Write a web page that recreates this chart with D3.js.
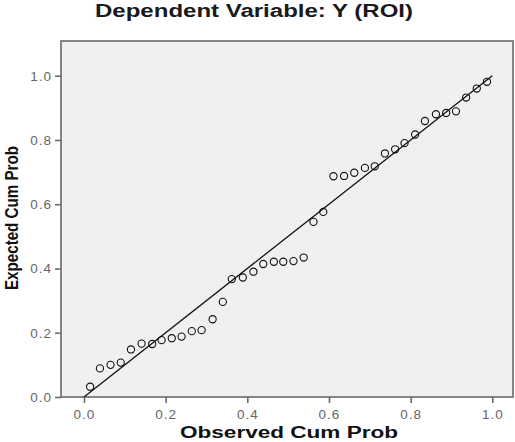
<!DOCTYPE html>
<html>
<head>
<meta charset="utf-8">
<script src="https://cdn.jsdelivr.net/npm/d3@7"></script>
<style>
  body { margin: 0; background: #fff; }
  #chart text { font-family: Arial, "Liberation Sans", sans-serif; }
</style>
</head>
<body>
<div id="chart"></div>
<script>
// observed vs expected cumulative probabilities
var observed = [0.015, 0.039, 0.065, 0.090, 0.115, 0.141, 0.167, 0.190, 0.215, 0.239,
                0.264, 0.288, 0.315, 0.340, 0.362, 0.389, 0.415, 0.439, 0.465, 0.488,
                0.513, 0.538, 0.562, 0.586, 0.611, 0.637, 0.662, 0.688, 0.712, 0.737,
                0.762, 0.785, 0.811, 0.835, 0.862, 0.887, 0.911, 0.936, 0.962, 0.987];
var expected = [0.032, 0.089, 0.100, 0.107, 0.148, 0.166, 0.165, 0.177, 0.183, 0.188,
                0.205, 0.208, 0.242, 0.296, 0.367, 0.372, 0.390, 0.414, 0.421, 0.421,
                0.423, 0.434, 0.545, 0.576, 0.687, 0.688, 0.698, 0.713, 0.718, 0.758,
                0.771, 0.790, 0.817, 0.859, 0.880, 0.884, 0.889, 0.932, 0.960, 0.981];
var tickValues = [0, 0.2, 0.4, 0.6, 0.8, 1.0];
var refLine = [0, 1];

var w = 515;
var h = 442;
var frame = { left: 61, top: 41, right: 513, bottom: 397 };

var svg = d3.select("#chart")
            .append("svg")
            .attr("width", w)
            .attr("height", h);

var x = d3.scaleLinear().domain([0, 1]).range([84, 492.3]);
var y = d3.scaleLinear().domain([0, 1]).range([397, 75.7]);

// plot area
svg.append("rect")
   .attr("x", frame.left)
   .attr("y", frame.top)
   .attr("width", frame.right - frame.left)
   .attr("height", frame.bottom - frame.top)
   .attr("fill", "#f0f0f0")
   .attr("stroke", "#6a6a6a")
   .attr("stroke-width", 1.6);

var xAxis = d3.axisBottom(x)
              .tickValues(tickValues)
              .tickFormat(d3.format(".1f"))
              .tickSize(6)
              .tickSizeOuter(0)
              .tickPadding(6);

var yAxis = d3.axisLeft(y)
              .tickValues(tickValues)
              .tickFormat(d3.format(".1f"))
              .tickSize(6)
              .tickSizeOuter(0)
              .tickPadding(3);

var gx = svg.append("g")
            .attr("transform", "translate(0," + frame.bottom + ")")
            .call(xAxis);

var gy = svg.append("g")
            .attr("transform", "translate(" + frame.left + ",0)")
            .call(yAxis);

[gx, gy].forEach(function (g) {
    g.select(".domain").remove();
    g.selectAll(".tick line").attr("stroke", "#6a6a6a").attr("stroke-width", 1.6);
    g.selectAll(".tick text")
     .attr("fill", "#666")
     .style("font-size", "13.5px")
     .style("letter-spacing", "1px");
});

// diagonal reference line
svg.append("line")
   .attr("x1", x(refLine[0]))
   .attr("y1", y(refLine[0]))
   .attr("x2", x(refLine[1]))
   .attr("y2", y(refLine[1]))
   .attr("stroke", "#111")
   .attr("stroke-width", 1.3);

var points = observed.map(function (d, i) {
    return { obs: d, exp: expected[i] };
});

svg.selectAll("circle")
   .data(points)
   .enter()
   .append("circle")
   .attr("cx", function (d) { return x(d.obs); })
   .attr("cy", function (d) { return y(d.exp); })
   .attr("r", 3.6)
   .attr("fill", "none")
   .attr("stroke", "#111")
   .attr("stroke-width", 1.1);

// titles (stretched like the original export)
svg.append("text")
   .attr("x", 254)
   .attr("y", 17)
   .attr("text-anchor", "middle")
   .attr("textLength", 318)
   .attr("lengthAdjust", "spacingAndGlyphs")
   .attr("fill", "#1a1a1a")
   .style("font-size", "18px")
   .style("font-weight", "bold")
   .text("Dependent Variable: Y (ROI)");

svg.append("text")
   .attr("x", 289)
   .attr("y", 438)
   .attr("text-anchor", "middle")
   .attr("textLength", 218)
   .attr("lengthAdjust", "spacingAndGlyphs")
   .attr("fill", "#111")
   .style("font-size", "16px")
   .style("font-weight", "bold")
   .text("Observed Cum Prob");

svg.append("text")
   .attr("transform", "translate(18,218) rotate(-90)")
   .attr("text-anchor", "middle")
   .attr("textLength", 144)
   .attr("lengthAdjust", "spacingAndGlyphs")
   .attr("fill", "#111")
   .style("font-size", "18px")
   .style("font-weight", "bold")
   .text("Expected Cum Prob");
</script>
</body>
</html>
